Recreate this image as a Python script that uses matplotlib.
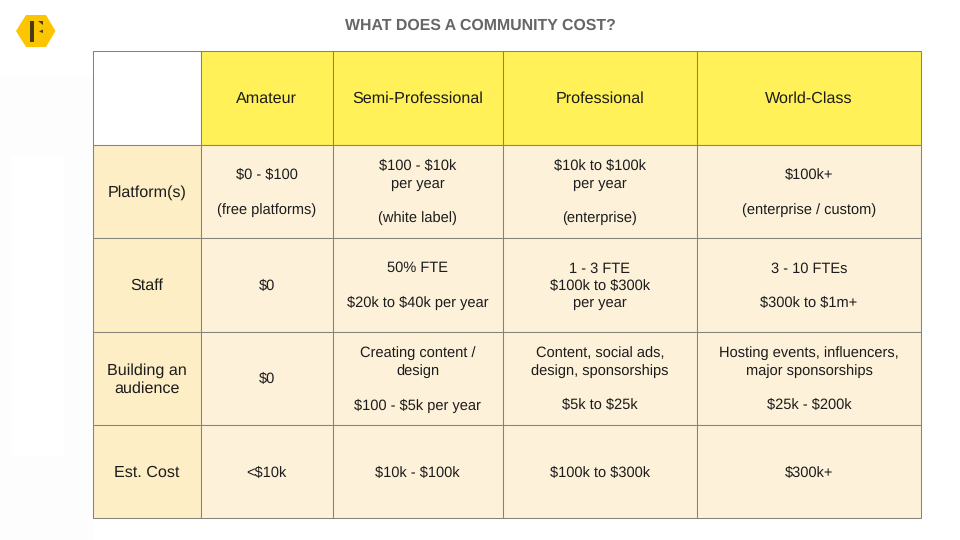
import matplotlib
matplotlib.use("Agg")
import matplotlib.pyplot as plt
from matplotlib.patches import Polygon, Rectangle

plt.rcParams['font.family'] = ['Liberation Sans', 'DejaVu Sans']
plt.rcParams['text.hinting'] = 'no_hinting'
plt.rcParams['text.parse_math'] = False

title = "WHAT DOES A COMMUNITY COST?"
columns = ["Amateur", "Semi-Professional", "Professional", "World-Class"]
rows = ["Platform(s)", "Staff", "Building an\naudience", "Est. Cost"]
cells = [
    ["$0 - $100\n\n(free platforms)", "$100 - $10k\nper year\n\n(white label)",
     "$10k to $100k\nper year\n\n(enterprise)", "$100k+\n\n(enterprise / custom)"],
    ["$0", "50% FTE\n\n$20k to $40k per year",
     "1 - 3 FTE\n$100k to $300k\nper year", "3 - 10 FTEs\n\n$300k to $1m+"],
    ["$0", "Creating content /\ndesign\n\n$100 - $5k per year",
     "Content, social ads,\ndesign, sponsorships\n\n$5k to $25k",
     "Hosting events, influencers,\nmajor sponsorships\n\n$25k - $200k"],
    ["<$10k", "$10k - $100k", "$100k to $300k", "$300k+"],
]

# grid edges in pixels
xs = [93, 200.5, 332.5, 502.5, 696.5, 921]
ys = [51, 144.5, 238, 331.5, 425, 518]

fig = plt.figure(figsize=(9.6, 5.4), dpi=100)
ax = fig.add_axes([0, 0, 1, 1])
ax.set_xlim(0, 960)
ax.set_ylim(540, 0)
ax.axis('off')

# faint background patches left of the table
ax.add_patch(Rectangle((0, 75), 93, 465, fc='#fdfdfd', ec='none', zorder=0))
ax.add_patch(Rectangle((12, 155), 52, 300, fc='white', ec='none', zorder=0))

line = '#84847a'
for r in range(5):
    for c in range(5):
        if r == 0:
            col = 'white' if c == 0 else '#fff157'
        elif c == 0:
            col = '#fdeec6'
        else:
            col = '#fdf1d9'
        ax.add_patch(Rectangle((xs[c], ys[r]), xs[c + 1] - xs[c], ys[r + 1] - ys[r],
                               fc=col, ec=line, lw=0.75, zorder=1))

color = '#1c1c1c'


def put(c, r, s, fs, ls):
    ax.text((xs[c] + xs[c + 1]) / 2 + 0.3, (ys[r] + ys[r + 1]) / 2 + 1.2, s, ha='center',
            va='center', fontsize=fs, color=color, linespacing=ls, zorder=2)


for i, name in enumerate(columns):
    put(i + 1, 0, name, 11.6, 1.2)
for i, name in enumerate(rows):
    put(0, i + 1, name, 11.6, 1.27)
for r, vals in enumerate(cells):
    for c, s in enumerate(vals):
        put(c + 1, r + 1, s, 10.55, 1.31)

ax.text(480, 25.5, title, ha='center', va='center', fontsize=11.4,
        fontweight='bold', color='#666666')

# logo
ax.add_patch(Polygon([(16, 31), (26, 15), (46, 15), (55.5, 31), (46, 47), (26, 47)],
                     closed=True, fc='#fdc500', ec='none', zorder=2))
ax.add_patch(Rectangle((29.5, 21), 4, 21, fc='#4a3c10', ec='none', zorder=3))
ax.add_patch(Polygon([(38, 21), (43, 21), (43, 25)], closed=True, fc='#4a3c10', ec='none', zorder=3))
ax.add_patch(Polygon([(39, 31.5), (43, 29.5), (43, 33)], closed=True, fc='#4a3c10', ec='none', zorder=3))

fig.savefig('out.png', dpi=100)
